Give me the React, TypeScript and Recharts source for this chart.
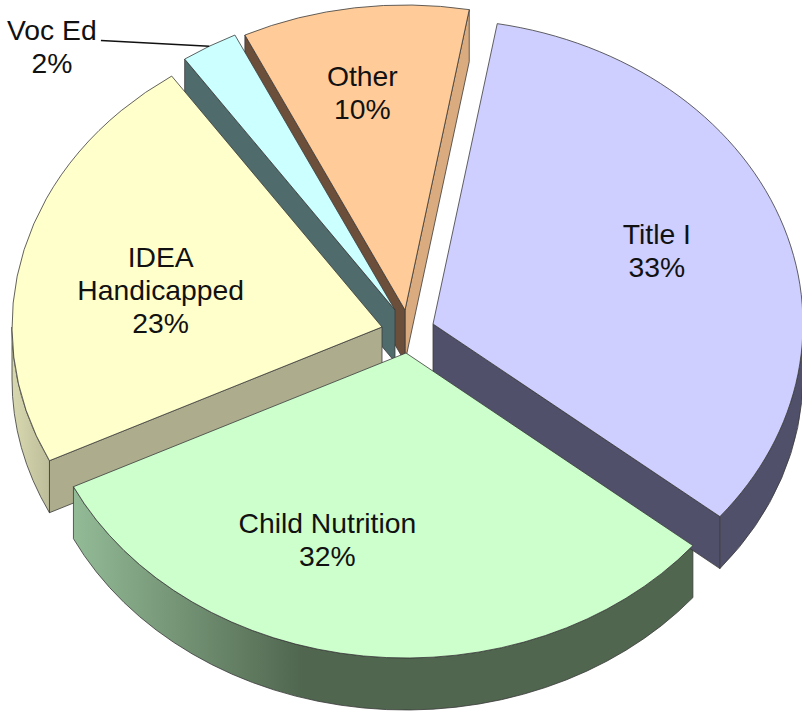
import React from 'react';
import { PieChart, Pie } from 'recharts';

// Slices, in the order they are stacked back to front
const CATEGORIES = ['Other', 'Voc Ed', 'IDEA\nHandicapped', 'Child Nutrition', 'Title I'];
const VALUES = [9.9, 2.5, 22.6, 31.9, 33.1];
const SHOWN_PERCENT = [10, 2, 23, 32, 33];

const pieData = CATEGORIES.map((name, i) => ({ name, value: VALUES[i], percent: SHOWN_PERCENT[i] }));

const WIDTH = 802;
const HEIGHT = 713;
const CX = 405;
const CY = 330;
const RX = 370;
const RY = 305;
const DEPTH = 52;
const EDGE = '#3a3a3a';

// Look of each slice: explode offset, colours, where its label sits on the ellipse
const STYLES: Record<string, any> = {
  'Other': { dx: 0, dy: -20, top: '#ffcc99', wallStart: '#d9ab7f', wallEnd: '#6b4f3a', labelFrac: 0.72, labelShift: 1.4 },
  'Voc Ed': { dx: -10, dy: -20, top: '#ccffff', wallStart: '#4f6b6b', wallEnd: '#4f6b6b', labelFrac: 1.265, labelShift: 17 },
  'IDEA\nHandicapped': { dx: -23, dy: -3, top: '#ffffcc', wallStart: '#adad8e', wallEnd: '#adad8e', outer: 'url(#ideaWall)', labelFrac: 0.61, labelShift: 3.4 },
  'Child Nutrition': { dx: 1, dy: 23, top: '#ccffcc', wallStart: '#50664f', wallEnd: '#50664f', outer: 'url(#childWall)', labelFrac: 0.65, labelShift: -12.5 },
  'Title I': { dx: 28, dy: -6, top: '#ceceff', wallStart: '#50506a', wallEnd: '#50506a', labelFrac: 0.65, labelShift: 1 },
};

const pointOn = (ax: number, ay: number, deg: number, frac = 1) => {
  const t = (deg * Math.PI) / 180;
  return { x: ax + RX * frac * Math.cos(t), y: ay - RY * frac * Math.sin(t) };
};

const cosOf = (deg: number) => Math.cos((deg * Math.PI) / 180);

// Side walls and the rim, drawn first so that the tops cover what is hidden
const WallShape = (props: any) => {
  const { cx, cy, startAngle, endAngle, name } = props;
  const s = STYLES[name];
  const ax = cx + s.dx;
  const ay = cy + s.dy;
  const p1 = pointOn(ax, ay, startAngle);
  const p2 = pointOn(ax, ay, endAngle);
  const lo = Math.max(startAngle, 180);
  const hi = Math.min(endAngle, 360);
  let rim = null;
  if (hi > lo) {
    const a = pointOn(ax, ay, lo);
    const b = pointOn(ax, ay, hi);
    const large = hi - lo > 180 ? 1 : 0;
    rim = `M${a.x},${a.y} A${RX},${RY} 0 ${large} 0 ${b.x},${b.y} L${b.x},${b.y + DEPTH} A${RX},${RY} 0 ${large} 1 ${a.x},${a.y + DEPTH} Z`;
  }
  return (
    <g stroke={EDGE} strokeWidth={0.8} strokeLinejoin="round">
      {cosOf(startAngle) > 0 && (
        <path d={`M${ax},${ay} L${p1.x},${p1.y} L${p1.x},${p1.y + DEPTH} L${ax},${ay + DEPTH} Z`} fill={s.wallStart} />
      )}
      {cosOf(endAngle) < 0 && (
        <path d={`M${ax},${ay} L${p2.x},${p2.y} L${p2.x},${p2.y + DEPTH} L${ax},${ay + DEPTH} Z`} fill={s.wallEnd} />
      )}
      {rim && <path d={rim} fill={s.outer || s.wallEnd} />}
    </g>
  );
};

const TopShape = (props: any) => {
  const { cx, cy, startAngle, endAngle, name } = props;
  const s = STYLES[name];
  const ax = cx + s.dx;
  const ay = cy + s.dy;
  const p1 = pointOn(ax, ay, startAngle);
  const p2 = pointOn(ax, ay, endAngle);
  const large = endAngle - startAngle > 180 ? 1 : 0;
  return (
    <path
      d={`M${ax},${ay} L${p1.x},${p1.y} A${RX},${RY} 0 ${large} 0 ${p2.x},${p2.y} Z`}
      fill={s.top}
      stroke={EDGE}
      strokeWidth={0.8}
      strokeLinejoin="round"
    />
  );
};

const SliceLabel = (props: any) => {
  const { cx, cy, midAngle, name, payload } = props;
  const s = STYLES[name];
  const ax = cx + s.dx;
  const ay = cy + s.dy;
  const at = pointOn(ax, ay, midAngle + s.labelShift, s.labelFrac);
  const lines = [...name.split('\n'), `${payload.percent}%`];
  const lineHeight = 33;
  const firstY = at.y - ((lines.length - 1) * lineHeight) / 2;
  const rimPoint = pointOn(ax, ay, midAngle);
  return (
    <g>
      {name === 'Voc Ed' && (
        <line x1={at.x + 49} y1={at.y - 7} x2={rimPoint.x} y2={rimPoint.y} stroke="#111" strokeWidth={1.6} />
      )}
      <text
        x={at.x}
        textAnchor="middle"
        fontFamily="'Liberation Sans', Arial, sans-serif"
        fontSize={28.3}
        fill="#111"
      >
        {lines.map((line: string, i: number) => (
          <tspan key={i} x={at.x} y={firstY + i * lineHeight + 9}>
            {line}
          </tspan>
        ))}
      </text>
    </g>
  );
};

const pieProps = {
  data: pieData,
  dataKey: 'value',
  nameKey: 'name',
  cx: CX,
  cy: CY,
  innerRadius: 0,
  outerRadius: RX,
  startAngle: 80,
  endAngle: 440,
  stroke: 'none',
  isAnimationActive: false,
};

const App: React.FC = () => {
  return (
    <div style={{ position: 'absolute', left: 0, top: 0, width: WIDTH, height: HEIGHT, background: '#fff' }}>
      <PieChart width={WIDTH} height={HEIGHT} margin={{ top: 0, right: 0, bottom: 0, left: 0 }}>
        <defs>
          <linearGradient id="childWall" x1="0" y1="0" x2="1" y2="0">
            <stop offset="0" stopColor="#93bb96" />
            <stop offset="0.37" stopColor="#50664f" />
            <stop offset="1" stopColor="#50664f" />
          </linearGradient>
          <linearGradient id="ideaWall" x1="0" y1="0" x2="1" y2="0">
            <stop offset="0" stopColor="#d8d8b0" />
            <stop offset="1" stopColor="#bdbd9a" />
          </linearGradient>
        </defs>
        <Pie {...pieProps} shape={WallShape} labelLine={false} />
        <Pie {...pieProps} shape={TopShape} labelLine={false} label={SliceLabel} />
      </PieChart>
    </div>
  );
};

export default App;
